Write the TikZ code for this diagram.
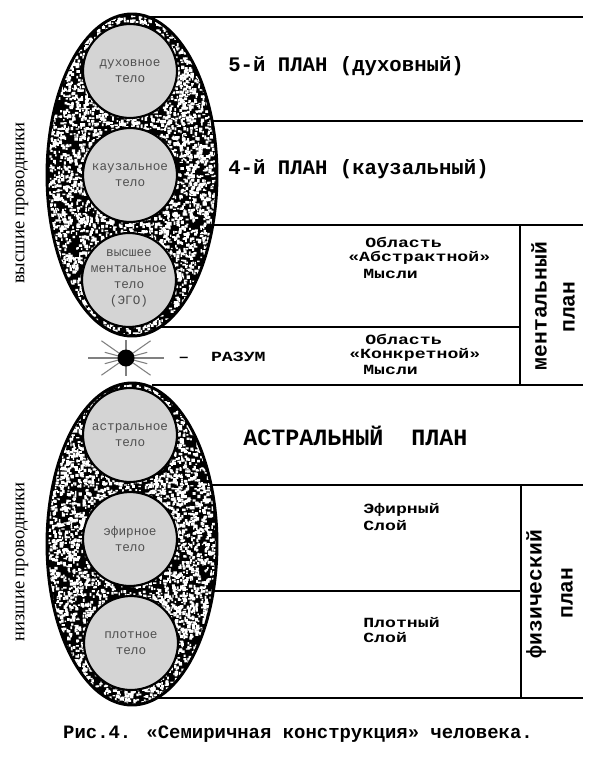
\documentclass[tikz,border=0pt]{standalone}
\usepackage{fontspec}
\setmainfont{Liberation Serif}
\newfontfamily\monof{Liberation Mono}
\newfontfamily\monow[FakeStretch=1.3]{Liberation Mono}
\definecolor{circgray}{RGB}{212,212,212}
\definecolor{txtgray}{RGB}{80,80,80}
\begin{document}
\begin{tikzpicture}[x=0.75pt,y=-0.75pt,
  bodytxt/.style={font=\monof\fontsize{9.5}{12}\selectfont,text=txtgray,align=center,inner sep=0pt},
  regtxt/.style={font=\monow\bfseries\fontsize{10.5}{12}\selectfont,anchor=west,inner sep=0pt},
  titletxt/.style={font=\monof\bfseries\fontsize{15.5}{18}\selectfont,anchor=west,inner sep=0pt},
  verttxt/.style={font=\monof\bfseries\fontsize{16}{18}\selectfont,rotate=90,inner sep=0pt},
  sidetxt/.style={font=\fontsize{14}{16}\selectfont,rotate=90,inner sep=0pt},
  sepline/.style={line width=1.5pt},
  bodycirc/.style={circle,fill=circgray,draw=black,line width=1.6pt,minimum size=70.5pt,inner sep=0pt}
]
\useasboundingbox (0,0) rectangle (600,778);

% --- upper and lower ellipses with speckled fill
\pgfmathsetseed{7}
\foreach \cy in {175,544}{
  \begin{scope}
    \clip (132,\cy) ellipse [x radius=85, y radius=161];
    \fill[black] (132,\cy) ellipse [x radius=85, y radius=161];
    \foreach \k in {1,...,11}{
      \fill[white] \foreach \i in {1,...,500}{
        ({132+85*rand},{\cy+161*rand}) rectangle ++({1.2+2.4*rnd},{1.2+2.4*rnd})
      };
    }
  \end{scope}
  \draw[line width=2.2pt] (132,\cy) ellipse [x radius=85, y radius=161];
}

% --- bodies
\node[bodycirc] (c1) at (130,71)  {};
\node[bodycirc] (c2) at (130,175) {};
\node[bodycirc] (c3) at (129,280) {};
\node[bodycirc] (c4) at (130,435) {};
\node[bodycirc] (c5) at (130,539) {};
\node[bodycirc] (c6) at (131,643) {};
\node[bodytxt] (t1) at (c1) {духовное\\тело};
\node[bodytxt] (t2) at (c2) {каузальное\\тело};
\node[bodytxt] (t3) at (129,278) {высшее\\ментальное\\тело\\(ЭГО)};
\node[bodytxt] (t4) at (c4) {астральное\\тело};
\node[bodytxt] (t5) at (c5) {эфирное\\тело};
\node[bodytxt] (t6) at (c6) {плотное\\тело};

% --- star (mind)
\coordinate (st) at (126,358);
\foreach \a/\l in {0/38,180/38,35/30,145/30,215/30,325/30,90/18,270/18,15/22,165/22,195/22,345/22}{
  \draw[gray,line width=0.8pt] (st) -- ++(\a:\l);
}
\fill[black] (st) circle (8.5);
\node[regtxt] (razum) at (178,357) {–\ \ РАЗУМ};

% --- separating lines
\draw[sepline] (148,17) -- (583,17);
\draw[sepline] (212,121) -- (583,121);
\draw[sepline] (213,225) -- (583,225);
\draw[sepline] (160,327) -- (520,327);
\draw[sepline] (152,385) -- (583,385);
\draw[sepline] (211,485) -- (583,485);
\draw[sepline] (213,591) -- (521,591);
\draw[sepline] (157,698) -- (583,698);
\draw[sepline] (520,225) -- (520,385);
\draw[sepline] (521,485) -- (521,698);

% --- plane titles
\node[titletxt] (p5) at (228,66) {5-й ПЛАН (духовный)};
\node[titletxt] (p4) at (228,169) {4-й ПЛАН (каузальный)};
\node[titletxt,font=\monof\bfseries\fontsize{17.5}{20}\selectfont] (pa) at (243,436) {АСТРАЛЬНЫЙ\ \ ПЛАН};

% --- mental regions
\node[regtxt] (a1) at (365,242) {Область};
\node[regtxt] (a2) at (348,258) {«Абстрактной»};
\node[regtxt] (a3) at (363,274) {Мысли};
\node[regtxt] (k1) at (365,339) {Область};
\node[regtxt] (k2) at (349,355) {«Конкретной»};
\node[regtxt] (k3) at (363,370) {Мысли};

% --- physical layers
\node[regtxt] (e1) at (363,510) {Эфирный};
\node[regtxt] (e2) at (363,526) {Слой};
\node[regtxt] (d1) at (363,623) {Плотный};
\node[regtxt] (d2) at (363,638) {Слой};

% --- vertical labels
\node[verttxt] (m1) at (539,306) {ментальный};
\node[verttxt] (m2) at (569,307) {план};
\node[verttxt] (f1) at (536,594) {физический};
\node[verttxt] (f2) at (567,593) {план};
\node[sidetxt] (s1) at (22,203) {высшие проводники};
\node[sidetxt] (s2) at (22,562) {низшие проводники};

% --- caption
\node[font=\monof\bfseries\fontsize{14.2}{16}\selectfont,inner sep=0pt] (cap) at (298,734) {Рис.4. «Семиричная конструкция» человека.};
\end{tikzpicture}
\end{document}
